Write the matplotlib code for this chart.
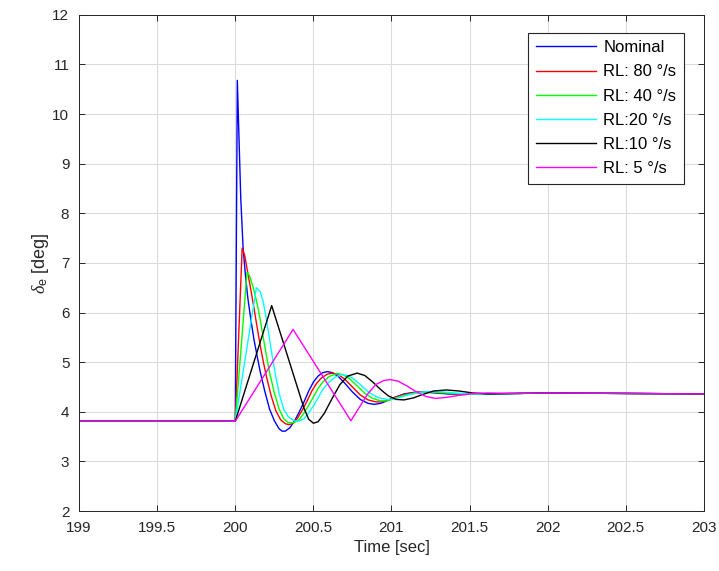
import matplotlib.pyplot as plt

plt.rcParams['font.family'] = ['Liberation Sans', 'DejaVu Sans']
plt.rcParams['mathtext.fontset'] = 'custom'
plt.rcParams['mathtext.it'] = 'Liberation Serif:italic'
plt.rcParams['mathtext.rm'] = 'Liberation Sans'

# elevator deflection traces
t_nom = [199, 200, 200.013, 200.035, 200.05, 200.065, 200.08, 200.1, 200.12, 200.14, 200.16,
         200.19, 200.22, 200.25, 200.28, 200.30, 200.32, 200.35, 200.38, 200.41, 200.44,
         200.47, 200.50, 200.53, 200.56, 200.59, 200.62, 200.66, 200.70, 200.75, 200.80,
         200.85, 200.89, 200.93, 200.97, 201.02, 201.08, 201.14, 201.2, 201.28, 201.36,
         201.45, 201.6, 201.8, 202.0, 202.5, 203]
d_nom = [3.81, 3.81, 10.68, 8.3, 7.3, 6.75, 6.3, 5.85, 5.45, 5.12, 4.8,
         4.4, 4.05, 3.82, 3.66, 3.61, 3.61, 3.68, 3.82, 4.0, 4.2,
         4.42, 4.6, 4.72, 4.79, 4.81, 4.79, 4.71, 4.58, 4.40, 4.25,
         4.17, 4.15, 4.17, 4.22, 4.29, 4.36, 4.39, 4.40, 4.38, 4.36,
         4.35, 4.36, 4.37, 4.38, 4.37, 4.36]

t_80 = [199, 200, 200.044, 200.06, 200.08, 200.1, 200.12, 200.14, 200.16, 200.18, 200.2,
        200.23, 200.26, 200.29, 200.32, 200.345, 200.37, 200.40, 200.43, 200.46, 200.49,
        200.52, 200.55, 200.59, 200.625, 200.66, 200.70, 200.75, 200.80, 200.85, 200.9,
        200.93, 200.97, 201.02, 201.08, 201.15, 201.24, 201.32, 201.45, 201.6, 201.8,
        202.0, 202.5, 203]
d_80 = [3.81, 3.81, 7.3, 7.15, 6.8, 6.45, 6.08, 5.7, 5.33, 5.0, 4.7,
        4.32, 4.02, 3.84, 3.76, 3.74, 3.77, 3.88, 4.04, 4.22, 4.42,
        4.57, 4.68, 4.76, 4.78, 4.75, 4.66, 4.50, 4.34, 4.24, 4.20,
        4.20, 4.23, 4.29, 4.35, 4.39, 4.40, 4.38, 4.35, 4.36, 4.37,
        4.38, 4.37, 4.36]

t_40 = [199, 200, 200.075, 200.09, 200.115, 200.14, 200.16, 200.18, 200.2, 200.22, 200.25,
        200.28, 200.31, 200.34, 200.377, 200.41, 200.44, 200.47, 200.5, 200.53, 200.56,
        200.6, 200.65, 200.69, 200.73, 200.78, 200.83, 200.88, 200.93, 200.97, 201.02,
        201.08, 201.15, 201.25, 201.35, 201.45, 201.6, 201.8, 202.0, 202.5, 203]
d_40 = [3.81, 3.81, 6.81, 6.75, 6.5, 6.18, 5.85, 5.48, 5.12, 4.78, 4.38,
        4.06, 3.86, 3.78, 3.78, 3.85, 3.98, 4.13, 4.3, 4.47, 4.6,
        4.71, 4.77, 4.75, 4.67, 4.52, 4.37, 4.27, 4.22, 4.22, 4.27,
        4.33, 4.38, 4.40, 4.38, 4.36, 4.36, 4.37, 4.38, 4.37, 4.36]

t_20 = [199, 200, 200.135, 200.16, 200.18, 200.2, 200.22, 200.24, 200.26, 200.28, 200.31,
        200.34, 200.375, 200.405, 200.44, 200.47, 200.5, 200.53, 200.56, 200.6, 200.64,
        200.68, 200.72, 200.76, 200.81, 200.86, 200.92, 200.97, 201.0, 201.05, 201.12,
        201.2, 201.3, 201.4, 201.5, 201.6, 201.8, 202.0, 202.5, 203]
d_20 = [3.81, 3.81, 6.5, 6.42, 6.2, 5.85, 5.45, 5.05, 4.7, 4.38, 4.05,
        3.9, 3.82, 3.81, 3.86, 3.98, 4.12, 4.28, 4.45, 4.6, 4.7,
        4.75, 4.73, 4.66, 4.52, 4.38, 4.28, 4.25, 4.25, 4.29, 4.35,
        4.40, 4.41, 4.38, 4.36, 4.36, 4.37, 4.38, 4.37, 4.36]

t_10 = [199, 200, 200.233, 200.44, 200.47, 200.5, 200.53, 200.57, 200.62, 200.67, 200.72,
        200.78, 200.83, 200.88, 200.93, 200.98, 201.03, 201.08, 201.14, 201.2, 201.27,
        201.35, 201.43, 201.52, 201.62, 201.8, 202.0, 202.5, 203]
d_10 = [3.81, 3.81, 6.14, 4.07, 3.85, 3.77, 3.8, 3.97, 4.27, 4.55, 4.72,
        4.78, 4.73, 4.6, 4.45, 4.32, 4.25, 4.24, 4.28, 4.35, 4.42,
        4.44, 4.42, 4.38, 4.36, 4.37, 4.38, 4.37, 4.36]

t_5 = [199, 200, 200.37, 200.74, 200.8, 200.85, 200.9, 200.95, 200.99, 201.04, 201.1,
       201.15, 201.22, 201.28, 201.35, 201.43, 201.52, 201.62, 201.8, 202.0, 202.5, 203]
d_5 = [3.81, 3.81, 5.66, 3.82, 4.12, 4.37, 4.55, 4.63, 4.65, 4.62, 4.52,
       4.42, 4.31, 4.27, 4.29, 4.33, 4.37, 4.38, 4.37, 4.38, 4.37, 4.36]

labels = ['Nominal', 'RL: 80 °/s', 'RL: 40 °/s', 'RL:20 °/s', 'RL:10 °/s', 'RL: 5 °/s']
colors = ['#0000ff', '#ff0000', '#00ff00', '#00ffff', '#000000', '#ff00ff']
series = [(t_nom, d_nom), (t_80, d_80), (t_40, d_40), (t_20, d_20), (t_10, d_10), (t_5, d_5)]

fig = plt.figure(figsize=(7.19, 5.71), dpi=100)
ax = fig.add_axes([0.110, 0.105, 0.869, 0.869])

for (t, d), lab, c in zip(series, labels, colors):
    ax.plot(t, d, color=c, linewidth=1.0, label=lab)

ax.set_xlim(199, 203)
ax.set_ylim(2, 12)
ax.set_xticks([199 + 0.5 * i for i in range(9)])
ax.set_xticklabels(['199', '199.5', '200', '200.5', '201', '201.5', '202', '202.5', '203'])
ax.set_yticks(range(2, 13))
ax.grid(True, color='#dcdcdc', linewidth=0.8)
ax.set_axisbelow(True)
for s in ax.spines.values():
    s.set_color('#262626')
    s.set_linewidth(0.7)
ax.tick_params(direction='in', length=4, width=0.7, colors='#262626', labelsize=11,
               top=True, right=True, pad=7)
ax.set_xlabel('Time [sec]', fontsize=12, color='#262626', labelpad=4)
ax.set_ylabel(r'$\delta_{\mathrm{e}}$ [deg]', fontsize=13, color='#262626', labelpad=1)

leg = ax.legend(loc='upper right', bbox_to_anchor=(0.968, 0.964), borderaxespad=0,
                fancybox=False, framealpha=1, edgecolor='#262626', fontsize=12,
                handlelength=3.6, handletextpad=0.45, labelspacing=0.55, borderpad=0.45)
leg.get_frame().set_linewidth(0.8)

fig.savefig('out.png', dpi=100)
